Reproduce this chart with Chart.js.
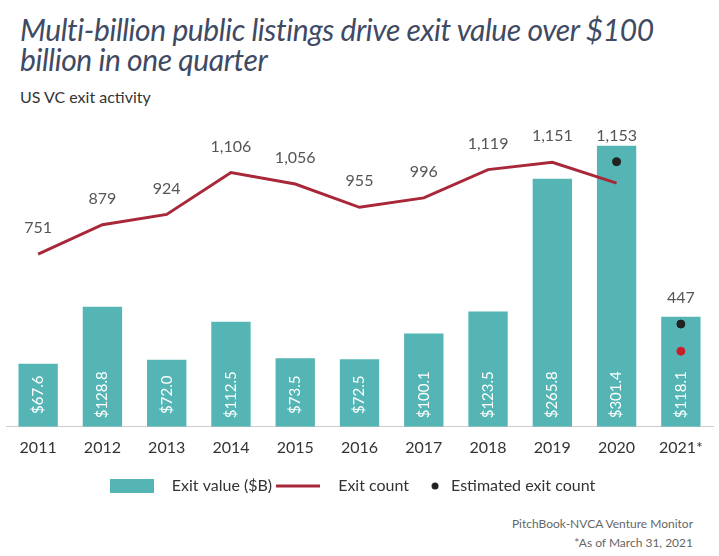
<!DOCTYPE html>
<html><head><meta charset="utf-8">
<script src="https://cdn.jsdelivr.net/npm/chart.js@4"></script>
<style>
body{margin:0;width:719px;height:556px;background:#fff;font-family:Lato,sans-serif;position:relative;overflow:hidden}
#t{position:absolute;left:20px;top:14px;font-size:30px;font-style:italic;color:#3f4a63;line-height:30px;letter-spacing:-0.4px}
#s{position:absolute;left:20px;top:87px;font-size:16px;color:#333}
#c{position:absolute;left:0;top:100px}
#f{position:absolute;right:26px;top:514px;font-size:12px;color:#666;text-align:right;line-height:19px}
</style></head><body>
<div id="t">Multi-billion public listings drive exit value over $100<br>billion in one quarter</div>
<div id="s">US VC exit activity</div>
<div id="c"><canvas id="cv" width="719" height="404"></canvas></div>
<div id="f">PitchBook-NVCA Venture Monitor<br>*As of March 31, 2021</div>
<script>
const years=['2011','2012','2013','2014','2015','2016','2017','2018','2019','2020','2021*'];
const exitValue=[67.6,128.8,72.0,112.5,73.5,72.5,100.1,123.5,265.8,301.4,118.1];
const exitCount=[751,879,924,1106,1056,955,996,1119,1151,1060,null];
const estimatedCount=[null,null,null,null,null,null,null,null,null,1153,447];
const actual2021=[null,null,null,null,null,null,null,null,null,null,329];
const countLabels=['751','879','924','1,106','1,056','955','996','1,119','1,151','1,153','447'];
function icon(draw){const c=document.createElement('canvas');c.width=44;c.height=14;draw(c.getContext('2d'));return c;}
const barIcon=icon(g=>{g.fillStyle='#55b5b5';g.fillRect(0,0,44,14);});
const lineIcon=icon(g=>{g.fillStyle='#a8283a';g.fillRect(0,5.5,44,3);});
const dotIcon=(()=>{const c=document.createElement('canvas');c.width=10;c.height=10;const g=c.getContext('2d');g.fillStyle='#222';g.beginPath();g.arc(5,5,3.5,0,7);g.fill();return c;})();
const labels={id:'lb',afterDatasetsDraw(ch){
 const c=ch.ctx;const bm=ch.getDatasetMeta(0);const y1=ch.scales.y1;
 c.save();c.font='15px Lato';c.fillStyle='#fff';c.textAlign='center';c.textBaseline='middle';
 bm.data.forEach((b,i)=>{c.save();c.translate(b.x,b.base-32);c.rotate(-Math.PI/2);c.fillText('$'+exitValue[i].toFixed(1),0,0);c.restore();});
 c.fillStyle='#555';c.font='16px Lato';
 countLabels.forEach((l,i)=>{const v=Math.max(exitCount[i]||0,estimatedCount[i]||0);c.fillText(l,bm.data[i].x,y1.getPixelForValue(v)-26);});
 c.restore();}};
new Chart(document.getElementById('cv'),{data:{labels:years,datasets:[
 {type:'bar',label:'Exit value ($B)',data:exitValue,backgroundColor:'#55b5b5',yAxisID:'y',categoryPercentage:0.9,barPercentage:0.68,order:3},
 {type:'line',label:'Exit count',data:exitCount,borderColor:'#a8283a',borderWidth:3,pointRadius:0,yAxisID:'y1',order:1,spanGaps:false},
 {type:'line',label:'Estimated exit count',data:estimatedCount,showLine:false,pointRadius:4,pointBackgroundColor:'#222',pointBorderColor:'#222',yAxisID:'y1',order:0},
 {type:'line',label:'actual',data:actual2021,showLine:false,pointRadius:4,pointBackgroundColor:'#c8202a',pointBorderColor:'#c8202a',yAxisID:'y1',order:0}
]},options:{responsive:false,animation:false,layout:{padding:{left:6,right:6,top:0,bottom:0}},
 plugins:{legend:{position:'bottom',labels:{font:{size:16,family:'Lato'},color:'#333',usePointStyle:true,padding:18,
  filter:i=>i.datasetIndex<3,sort:(a,b)=>a.datasetIndex-b.datasetIndex,
  generateLabels(ch){const d=Chart.defaults.plugins.legend.labels.generateLabels(ch);
   d.forEach(x=>{x.pointStyle=[barIcon,lineIcon,dotIcon,dotIcon][x.datasetIndex];
    if(x.datasetIndex<2)x.text='\u2003\u2003'+x.text;});return d;}}},tooltip:{enabled:false}},
 scales:{x:{grid:{display:false},border:{display:true,color:'#ccc'},ticks:{font:{size:16,family:'Lato'},color:'#333'}},
  y:{display:false,min:0,max:345},y1:{display:false,min:0,max:1400}}},plugins:[labels]});
</script></body></html>
